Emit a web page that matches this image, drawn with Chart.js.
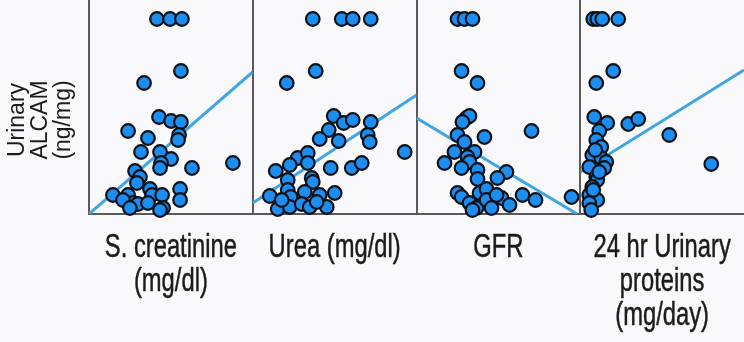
<!DOCTYPE html>
<html>
<head>
<meta charset="utf-8">
<script src="https://cdn.jsdelivr.net/npm/chart.js@4"></script>
<style>
  html, body { margin: 0; padding: 0; background: #f9f9fb; }
  #wrap { position: relative; width: 744px; height: 342px; }
</style>
</head>
<body>
<div id="wrap"><canvas id="c"></canvas></div>
<script>
// ---- data ----
const yTitleLines = ['Urinary', 'ALCAM', '(ng/mg)'];
const xTitles = [
  ['S. creatinine', '(mg/dl)'],
  ['Urea (mg/dl)'],
  ['GFR'],
  ['24 hr Urinary', 'proteins', '(mg/day)']
];
const yRange = [0, 107];
const creatinineRange = [0, 8];
const ureaRange = [0, 200];
const gfrRange = [0, 160];
const proteinRange = [0, 8000];

const creatinineX = [3.32, 3.96, 4.54, 4.49, 2.69, 3.42, 4.01, 4.49, 1.91, 4.40, 2.88, 4.35, 2.54, 3.47, 4.01, 3.52, 3.47, 5.03, 7.03, 2.25, 2.49, 2.34, 1.17, 1.91, 2.98, 3.08, 3.57, 4.45, 4.45, 2.15, 2.39, 2.88, 3.62, 3.47, 1.66, 2.00];
const creatinineY = [97.5, 97.5, 97.5, 71.5, 65.5, 48.5, 46.5, 46, 41.5, 39.5, 38, 37, 31, 31, 27.5, 25.5, 23, 23, 25.5, 21.5, 18.5, 15.5, 9.5, 9.5, 12.5, 9.5, 9.5, 12.5, 7, 5.5, 5, 5.5, 3, 2, 7, 3];

const ureaX = [73.3, 108.7, 122.1, 144.1, 76.9, 41.5, 98.9, 111.1, 122.1, 144.1, 92.8, 81.8, 105.0, 140.4, 142.9, 185.6, 54.9, 67.2, 45.2, 67.2, 28.1, 95.2, 120.9, 133.1, 72.0, 73.3, 42.7, 20.8, 42.7, 46.4, 63.5, 81.8, 100.1, 30.5, 45.2, 59.8, 69.6, 90.4, 35.4, 78.1];
const ureaY = [97.5, 97.5, 97.5, 97.5, 71.5, 65.5, 49, 45.5, 47, 46, 42, 37.5, 36.5, 39.5, 36, 31, 28, 30.5, 24.5, 25.5, 21.5, 23, 23, 25.5, 18, 16, 17, 9, 12, 8.5, 11, 9.5, 10.5, 2.5, 3.5, 5, 3.5, 3.5, 7, 6];

const gfrX = [40.1, 46.9, 54.7, 44.0, 59.6, 48.9, 51.8, 44.9, 112.4, 40.1, 66.4, 46.9, 37.1, 56.7, 49.8, 27.4, 51.8, 44.0, 59.6, 87.9, 79.1, 59.6, 40.1, 44.0, 61.6, 68.4, 83.1, 103.6, 116.3, 151.5, 51.8, 58.6, 68.4, 73.3, 90.9, 78.2, 54.7];
const gfrY = [97.5, 97.5, 97.5, 71.5, 65.5, 48, 49, 46, 41.5, 39.5, 38.5, 36, 31, 31, 28.5, 25.5, 26, 23, 22, 21, 18, 17.5, 10.5, 8.5, 10.5, 12.5, 8, 9.5, 7, 8.5, 5.5, 3, 7, 3, 4.5, 9.5, 2];

const proteinX = [635, 830, 1075, 1856, 1612, 782, 684, 1319, 2345, 2833, 928, 4348, 782, 1026, 586, 1026, 1270, 6400, 440, 1172, 782, 830, 440, 830, 440, 537, 586, 635, 928, 733];
const proteinY = [97.5, 97.5, 97.5, 97.5, 71.5, 65.5, 48.5, 45.5, 45, 47.5, 41.5, 39.5, 37, 33.5, 29.5, 28, 26, 25, 23.5, 23, 18.5, 17, 9.5, 7, 5.5, 2, 13.5, 12, 21, 32];

// fitted lines (start / end values)
const creatinineFitX = [0, 8];     const creatinineFitY = [0, 71];
const ureaFitX = [0, 200];         const ureaFitY = [5.5, 59.5];
const gfrFitX = [0, 157];          const gfrFitY = [48, 0];
const proteinFitX = [0, 8000];     const proteinFitY = [21, 72];

// ---- styling ----
const axisColor = '#5a5a5a';
const dotFill = '#1c8ef2';
const dotEdge = '#0e1116';
const fitColor = '#3da6e3';
const textColor = '#1c1c1c';

const panels = [
  { id: 'x1', range: creatinineRange, xs: creatinineX, ys: creatinineY, fx: creatinineFitX, fy: creatinineFitY },
  { id: 'x2', range: ureaRange, xs: ureaX, ys: ureaY, fx: ureaFitX, fy: ureaFitY },
  { id: 'x3', range: gfrRange, xs: gfrX, ys: gfrY, fx: gfrFitX, fy: gfrFitY },
  { id: 'x4', range: proteinRange, xs: proteinX, ys: proteinY, fx: proteinFitX, fy: proteinFitY }
];

const datasets = [];
const scales = {
  y: {
    type: 'linear', min: yRange[0], max: yRange[1],
    ticks: { display: false },
    grid: { display: false, drawTicks: false },
    border: { display: true, color: axisColor, width: 2 },
    title: { display: false }
  }
};

panels.forEach((p, i) => {
  datasets.push({
    label: 'points' + i,
    xAxisID: p.id, yAxisID: 'y',
    data: p.xs.map((x, k) => ({ x: x, y: p.ys[k] })),
    pointRadius: 6.8, pointBorderWidth: 2.2,
    pointBackgroundColor: dotFill, pointBorderColor: dotEdge,
    showLine: false, clip: false, order: 1
  });
  datasets.push({
    label: 'fit' + i,
    xAxisID: p.id, yAxisID: 'y',
    data: p.fx.map((x, k) => ({ x: x, y: p.fy[k] })),
    showLine: true, pointRadius: 0, borderColor: fitColor, borderWidth: 3,
    order: 2
  });
  scales[p.id] = {
    type: 'linear', position: 'bottom', stack: 'panels', stackWeight: 1,
    min: p.range[0], max: p.range[1],
    ticks: { display: false },
    grid: {
      drawTicks: false, lineWidth: 2,
      color: ctx => ctx.index === 0 ? axisColor : 'rgba(0,0,0,0)'
    },
    border: { display: true, color: axisColor, width: 2 },
    title: { display: false }
  };
});

// axis titles drawn as (horizontally condensed) canvas text
const titlesPlugin = {
  id: 'axisTitles',
  afterDraw(chart) {
    const ctx = chart.ctx;
    const area = chart.chartArea;
    ctx.save();
    ctx.fillStyle = textColor;
    ctx.strokeStyle = textColor;
    // x titles
    ctx.font = "33px 'Liberation Sans', Arial, sans-serif";
    ctx.textAlign = 'center';
    ctx.textBaseline = 'alphabetic';
    ctx.lineWidth = 0.5;
    panels.forEach((p, i) => {
      const sc = chart.scales[p.id];
      const cx = (sc.left + sc.right) / 2;
      xTitles[i].forEach((line, k) => {
        ctx.save();
        ctx.translate(cx, area.bottom + 43 + k * 34);
        ctx.scale(0.72, 1);
        ctx.fillText(line, 0, 0);
        ctx.strokeText(line, 0, 0);
        ctx.restore();
      });
    });
    // y title
    ctx.font = "23px 'Liberation Sans', Arial, sans-serif";
    ctx.textAlign = 'center';
    ctx.textBaseline = 'middle';
    yTitleLines.forEach((t, i) => {
      ctx.save();
      ctx.translate(18 + i * 23, area.top + 120);
      ctx.rotate(-Math.PI / 2);
      ctx.fillText(t, 0, 0);
      ctx.restore();
    });
    ctx.restore();
  }
};

new Chart(document.getElementById('c'), {
  type: 'scatter',
  data: { datasets },
  options: {
    responsive: true, maintainAspectRatio: false, animation: false,
    layout: { autoPadding: false, padding: { left: 89, top: 0, right: 0, bottom: 128 } },
    plugins: { legend: { display: false }, tooltip: { enabled: false } },
    scales
  },
  plugins: [titlesPlugin]
});
</script>
</body>
</html>
